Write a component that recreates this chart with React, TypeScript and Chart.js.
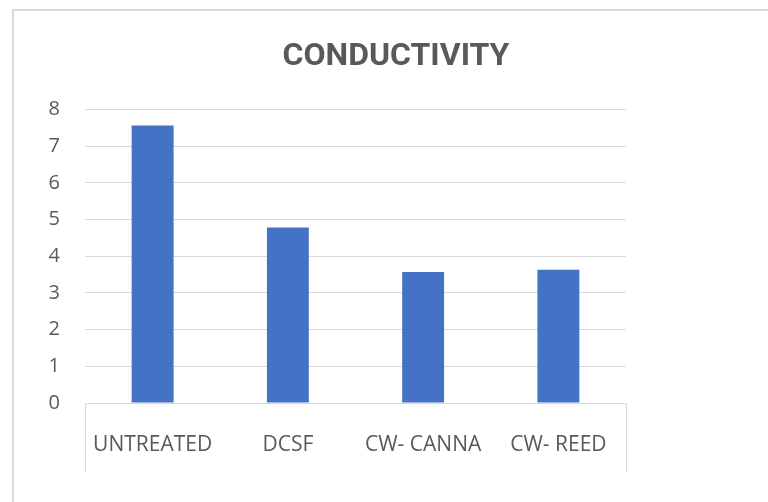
import React, { useEffect, useRef } from "react";
import { Chart, registerables } from "chart.js";

Chart.register(...registerables);

const categories = ["UNTREATED", "DCSF", "CW- CANNA", "CW- REED"];
const conductivity = [7.56, 4.78, 3.57, 3.63];
const titleText = "CONDUCTIVITY";
const yMin = 0;
const yMax = 8;
const yStep = 1;

const GRAY = "#d9d9d9";
const TEXT = "#595959";
const BLUE = "#4472c4";

export default function App() {
  const ref = useRef<HTMLCanvasElement | null>(null);

  useEffect(() => {
    if (!ref.current) return;
    const chart = new Chart(ref.current, {
      type: "bar",
      data: {
        labels: categories,
        datasets: [
          {
            label: titleText,
            data: conductivity,
            backgroundColor: BLUE,
            borderWidth: 0,
            barPercentage: 0.31,
            categoryPercentage: 1.0,
          },
        ],
      },
      options: {
        responsive: false,
        animation: false,
        layout: { padding: { left: 24, right: 0, top: 0, bottom: 0 } },
        plugins: {
          legend: { display: false },
          tooltip: { enabled: false },
          title: {
            display: true,
            text: titleText,
            color: TEXT,
            font: { family: "Roboto", size: 32, weight: "bold", lineHeight: 1.2 },
            padding: { top: 38, bottom: 33 },
          },
        },
        scales: {
          x: {
            offset: true,
            grid: {
              display: true,
              offset: true,
              drawOnChartArea: false,
              drawTicks: true,
              tickLength: 69,
              lineWidth: 1,
              color: (ctx: any) =>
                ctx.index === 0 || ctx.index === undefined ? GRAY : "rgba(0,0,0,0)",
            },
            border: { display: true, color: GRAY, width: 1 },
            ticks: {
              color: TEXT,
              padding: -40,
              maxRotation: 0,
              autoSkip: false,
              font: { family: "Open Sans", size: 21 },
            },
            afterFit: (s: any) => {
              s.height = 99;
            },
          },
          y: {
            min: yMin,
            max: yMax,
            ticks: {
              stepSize: yStep,
              color: TEXT,
              padding: 25,
              font: { family: "Open Sans", size: 20 },
            },
            grid: { color: GRAY, lineWidth: 1, drawTicks: false },
            border: { display: false },
            afterFit: (s: any) => {
              s.width = 61;
            },
          },
          y2: {
            position: "right",
            display: true,
            grid: { display: false },
            ticks: { display: false },
            border: { display: false },
            afterFit: (s: any) => {
              s.width = 142;
            },
          },
        },
      },
    });
    return () => chart.destroy();
  }, []);

  return (
    <div
      style={{
        position: "absolute",
        left: 0,
        top: 0,
        width: 768,
        height: 502,
        overflow: "hidden",
        background: "#fff",
      }}
    >
      <div
        style={{
          position: "absolute",
          left: 12,
          top: 9,
          width: 800,
          height: 600,
          border: `2px solid ${GRAY}`,
          boxSizing: "border-box",
        }}
      />
      <canvas
        ref={ref}
        width={768}
        height={502}
        style={{ position: "absolute", left: 0, top: 0, display: "block" }}
      />
    </div>
  );
}
